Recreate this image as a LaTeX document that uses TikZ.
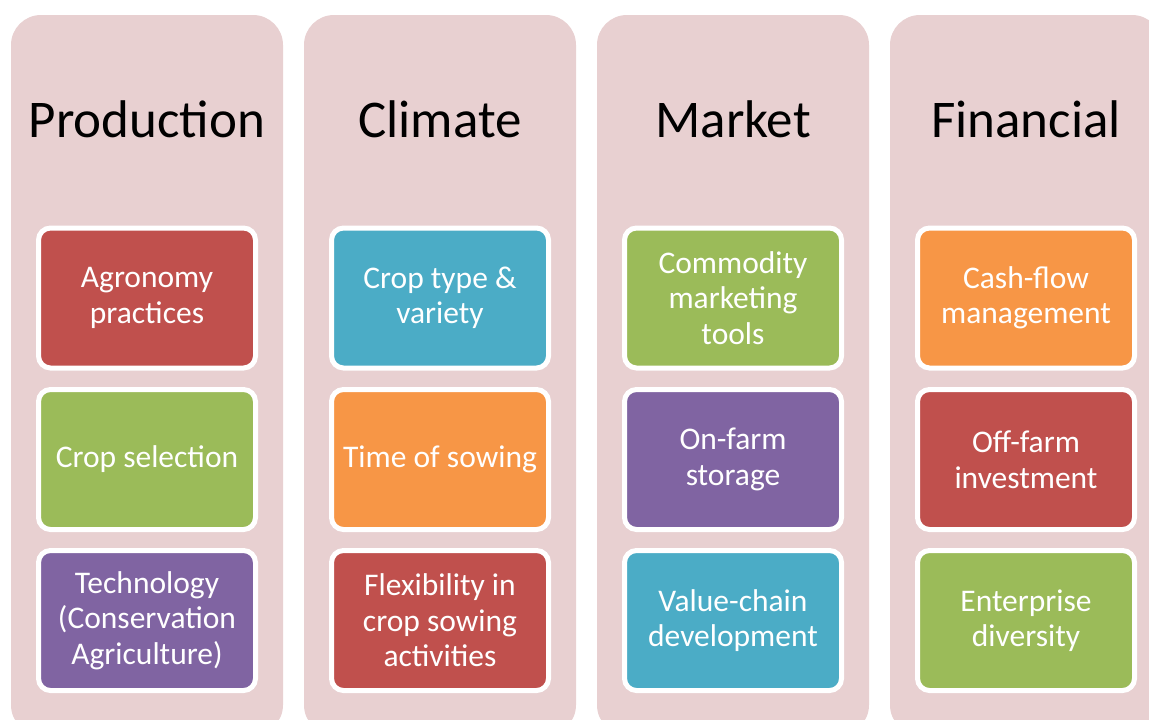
\documentclass[tikz,border=0pt]{standalone}
\usepackage{fontspec}
\setmainfont{Carlito}
\definecolor{bgpink}{HTML}{E8D0D1}
\definecolor{cred}{HTML}{C0504D}
\definecolor{cgreen}{HTML}{9BBB59}
\definecolor{cpurple}{HTML}{8064A2}
\definecolor{cblue}{HTML}{4BACC6}
\definecolor{corange}{HTML}{F79646}
\begin{document}
\begin{tikzpicture}[x=1pt,y=-1pt,
  colbg/.style={fill=bgpink, rounded corners=30pt, minimum width=272pt, minimum height=720pt, inner sep=0pt},
  coltitle/.style={anchor=base, text=black, inner sep=0pt, font=\fontsize{53}{60}\selectfont},
  item/.style={draw=white, line width=5pt, rounded corners=12pt, minimum width=217pt, minimum height=140pt, text=white, align=center, inner sep=0pt, font=\fontsize{31.5}{35.5}\selectfont}]
\useasboundingbox (0,0) rectangle (1149,720);
\clip (0,0) rectangle (1149,720);
% columns
\node[colbg] (c1) at (147,375) {};
\node[colbg] (c2) at (440,375) {};
\node[colbg] (c3) at (733,375) {};
\node[colbg] (c4) at (1026,375) {};
% titles
\node[coltitle] (t1) at (147,137) {Production};
\node[coltitle] (t2) at (440,137) {Climate};
\node[coltitle] (t3) at (733,137) {Market};
\node[coltitle] (t4) at (1026,137) {Financial};
% Production
\node[item, fill=cred] (p1) at (147,298) {Agronomy\\practices};
\node[item, fill=cgreen] (p2) at (147,459.5) {Crop selection};
\node[item, fill=cpurple] (p3) at (147,620.5) {Technology\\(Conservation\\Agriculture)};
% Climate
\node[item, fill=cblue] (k1) at (440,298) {Crop type \&\\variety};
\node[item, fill=corange] (k2) at (440,459.5) {Time of sowing};
\node[item, fill=cred] (k3) at (440,620.5) {Flexibility in\\crop sowing\\activities};
% Market
\node[item, fill=cgreen] (m1) at (733,298) {Commodity\\marketing\\tools};
\node[item, fill=cpurple] (m2) at (733,459.5) {On-farm\\storage};
\node[item, fill=cblue] (m3) at (733,620.5) {Value-chain\\development};
% Financial
\node[item, fill=corange] (f1) at (1026,298) {Cash-flow\\management};
\node[item, fill=cred] (f2) at (1026,459.5) {Off-farm\\investment};
\node[item, fill=cgreen] (f3) at (1026,620.5) {Enterprise\\diversity};
\end{tikzpicture}
\end{document}
